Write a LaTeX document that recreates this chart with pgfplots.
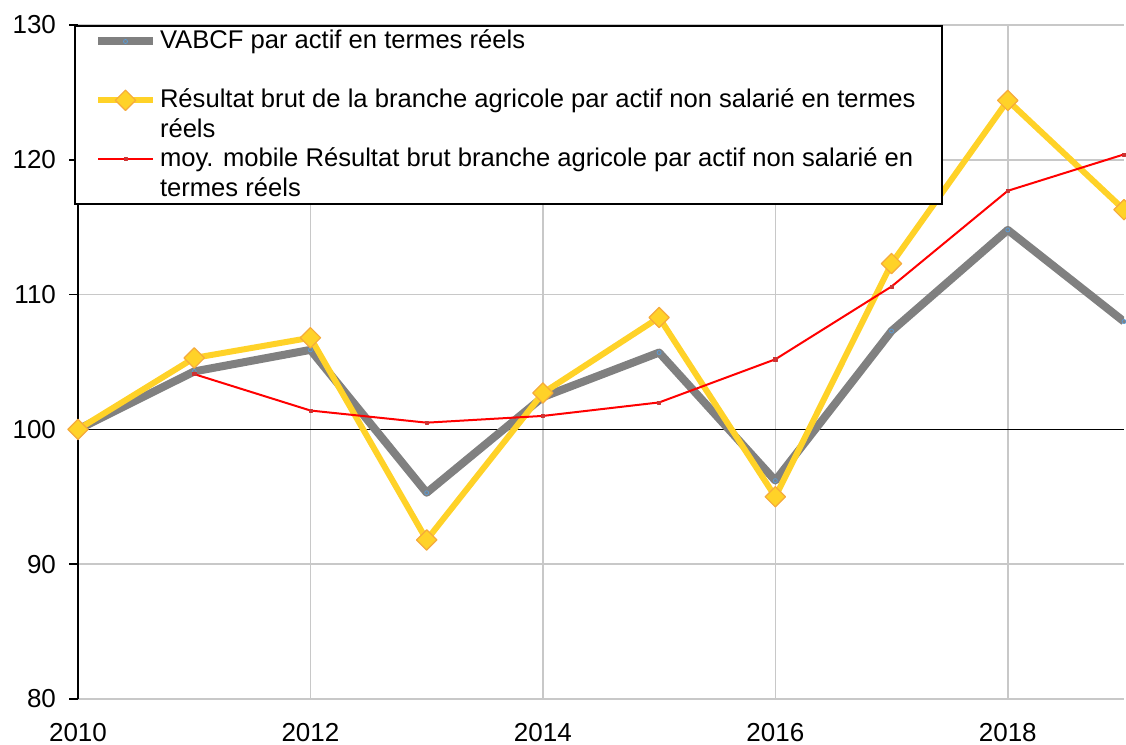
\documentclass[border=0pt]{standalone}
\usepackage{pgfplots}
\pgfplotsset{compat=1.18}
\usepackage{fontspec}
\setmainfont{Liberation Sans}
\definecolor{cgray}{RGB}{128,128,128}
\definecolor{cyel}{RGB}{255,210,40}
\definecolor{cedge}{RGB}{245,170,60}
\definecolor{cgrid}{RGB}{200,200,200}
\definecolor{cblue}{RGB}{91,155,213}
\begin{document}
\begin{tikzpicture}
\begin{axis}[name=ax, scale only axis, width=523pt, height=337pt,
  xmin=2010, xmax=2019, ymin=80, ymax=130,
  xtick={2010,2012,2014,2016,2018}, ytick={80,90,...,130},
  /pgf/number format/assume math mode=true, /pgf/number format/1000 sep={},
  axis lines=left, axis line style={-},
  x axis line style={cgrid, line width=0.8pt},
  y axis line style={black, line width=1pt},
  tick align=outside, major tick length=4.5pt,
  x tick style={draw=none}, y tick style={black, line width=0.8pt},
  grid=major, major grid style={cgrid, line width=0.8pt},
  extra y ticks={100}, extra y tick labels={},
  extra y tick style={grid=major, major grid style={black, line width=0.8pt}},
  tick label style={font=\fontsize{13}{15}\selectfont},
  xticklabel style={yshift=-4pt},
  yticklabel style={xshift=-3pt},
  legend image code/.code={\path (0pt,0pt); \draw[mark repeat=2, mark phase=2, #1] plot coordinates {(9.5pt,0pt) (23.25pt,0pt) (37pt,0pt)};},
  legend style={at={(axis description cs:0,1)}, xshift=-2pt, anchor=north west,
    draw=black, line width=1pt, fill=white, inner xsep=0pt, inner ysep=0.5pt,
    font=\fontsize{12.8}{14.6}\selectfont,
    cells={anchor=west, inner xsep=0pt, inner ysep=0pt, text height=9pt, text depth=0.6pt},
    row sep=0.2pt, /tikz/column sep=-0.5pt},
  legend cell align=left,
]
\addplot[cgray, line width=4pt, line join=round, mark=*, mark size=1pt, mark options={cblue, line width=0.4pt, fill=cgray}]
 coordinates {(2010,100)(2011,104.3)(2012,105.9)(2013,95.3)(2014,102.4)(2015,105.7)(2016,96.2)(2017,107.3)(2018,114.8)(2019,108.0)};
\addlegendentry{VABCF par actif en termes réels}
\addlegendimage{empty legend}
\addlegendentry{\makebox[389pt][l]{}}
\addplot[cyel, line width=3pt, line join=round, mark=square*, mark size=3.6pt, mark options={rotate=45, fill=cyel, draw=cedge, line width=0.6pt}]
 coordinates {(2010,100)(2011,105.3)(2012,106.8)(2013,91.8)(2014,102.7)(2015,108.3)(2016,95.0)(2017,112.3)(2018,124.4)(2019,116.3)};
\addlegendentry{Résultat brut de la branche agricole par actif non salarié en termes}
\addlegendimage{empty legend}
\addlegendentry{réels}
\addplot[red, line width=1pt, line join=round, mark=square*, mark size=0.8pt, mark options={fill=red!60!gray, draw=red!60!gray, line width=0.3pt}]
 coordinates {(2011,104.1)(2012,101.4)(2013,100.5)(2014,101.0)(2015,102.0)(2016,105.2)(2017,110.6)(2018,117.7)(2019,120.4)};
\addlegendentry{moy. mobile Résultat brut branche agricole par actif non salarié en}
\addlegendimage{empty legend}
\addlegendentry{termes réels}
\end{axis}
\pgfresetboundingbox
\path[use as bounding box] ([xshift=-39pt,yshift=-22.5pt]ax.south west) rectangle ([xshift=1pt,yshift=12.5pt]ax.north east);
\end{tikzpicture}
\end{document}
